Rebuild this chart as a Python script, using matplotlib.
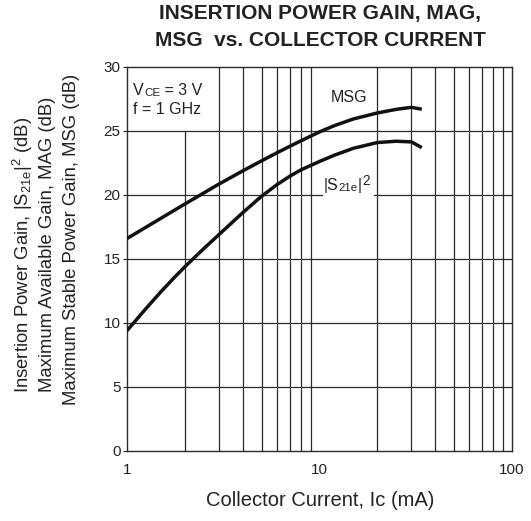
import matplotlib
matplotlib.use("Agg")
import matplotlib.pyplot as plt

plt.rcParams['font.family'] = ['Liberation Sans', 'DejaVu Sans']

# ---- data ----
msg_current_ma = [1, 1.5, 2, 3, 4, 5, 6, 7, 8, 10, 12, 15, 20, 25, 30, 34]
msg_db = [16.6, 18.18, 19.3, 20.85, 21.89, 22.67, 23.29, 23.8, 24.23, 24.93,
          25.43, 25.94, 26.41, 26.69, 26.85, 26.7]
s21_current_ma = [1, 1.25, 1.5, 1.75, 2, 2.5, 3, 4, 5, 6, 7, 8, 10, 12, 15,
                  20, 25, 30, 34]
s21_db = [9.4, 11.1, 12.44, 13.51, 14.4, 15.8, 16.9, 18.63, 19.9, 20.8,
          21.46, 21.96, 22.62, 23.12, 23.65, 24.1, 24.2, 24.15, 23.7]
x_ticks = [1, 10, 100]
x_tick_labels = ["1", "10", "100"]
y_ticks = [0, 5, 10, 15, 20, 25, 30]

W, H = 531, 521
fig = plt.figure(figsize=(W / 100, H / 100), dpi=100)
ax = fig.add_axes([127 / W, 1 - 451 / H, (512 - 127) / W, (451 - 67) / H])

ax.set_xscale('log')
ax.set_xlim(1, 100)
ax.set_ylim(0, 30)

gc = '#2a2a2a'
glw = 0.9
# vertical grid lines
for d in (1, 10):
    for m in range(2, 10):
        xv = d * m
        if xv == 2:
            ax.plot([xv, xv], [0, 25], color=gc, lw=glw, zorder=1)
        else:
            ax.plot([xv, xv], [0, 30], color=gc, lw=glw, zorder=1)
# horizontal grid lines
for yv in (5, 10, 15, 25):
    ax.plot([1, 100], [yv, yv], color=gc, lw=glw, zorder=1)
ax.plot([1, 10.36], [20, 20], color=gc, lw=glw, zorder=1)
ax.plot([19.1, 100], [20, 20], color=gc, lw=glw, zorder=1)

for sp in ax.spines.values():
    sp.set_color(gc)
    sp.set_linewidth(1.0)

ax.plot(msg_current_ma, msg_db, color='#111111', lw=2.5, solid_joinstyle='round',
        solid_capstyle='butt', zorder=3)
ax.plot(s21_current_ma, s21_db, color='#111111', lw=2.5, solid_joinstyle='round',
        solid_capstyle='butt', zorder=3)

ax.set_xticks(x_ticks)
ax.set_xticklabels(x_tick_labels)
ax.xaxis.set_minor_locator(matplotlib.ticker.NullLocator())
ax.set_yticks(y_ticks)
ax.tick_params(axis='x', length=0, pad=9, labelsize=11, colors='#222222')
ax.tick_params(axis='y', length=3, width=0.8, pad=1.5, labelsize=11,
               colors='#222222', direction='out')

fs = 11.5
tc = '#222222'
# condition text
t1 = ax.text(1.078, 27.8, "V", fontsize=fs, color=tc, va='baseline', ha='left')
t2 = ax.annotate("CE", xy=(1, 0), xycoords=t1, fontsize=fs * 0.72, color=tc,
                 va='bottom', ha='left')
ax.annotate(" = 3 V", xy=(1, 0), xycoords=t2, fontsize=fs, color=tc,
            va='bottom', ha='left')
ax.text(1.078, 26.33, "f = 1 GHz", fontsize=fs, color=tc, va='baseline', ha='left')

# curve labels
ax.text(11.4, 27.6, "MSG", fontsize=fs, color=tc, va='center', ha='left')
s1 = ax.text(10.55, 20.13, "|S", fontsize=fs, color=tc, va='bottom', ha='left')
s2 = ax.annotate("21e", xy=(1, 0), xycoords=s1, fontsize=fs * 0.72, color=tc,
                 va='bottom', ha='left')
s3 = ax.annotate("|", xy=(1, 0), xycoords=s2, fontsize=fs, color=tc,
                 va='bottom', ha='left')
ax.annotate("2", xy=(1, 1), xycoords=s3, fontsize=fs * 0.85, color=tc,
            va='top', ha='left', xytext=(0.5, 3), textcoords='offset points')

# title
fig.text(320 / W, 1 - 14 / H, "INSERTION POWER GAIN, MAG,", fontsize=15,
         fontweight='bold', color=tc, ha='center', va='center')
fig.text(320 / W, 1 - 40 / H, "MSG  vs. COLLECTOR CURRENT", fontsize=15,
         fontweight='bold', color=tc, ha='center', va='center')

# x label
fig.text(320 / W, 1 - 501 / H, "Collector Current, Ic (mA)", fontsize=14.5,
         color=tc, ha='center', va='center')

# y label (three lines)
yfs = 13.3
fig.text(23 / W, 1 - 255 / H,
         r"Insertion Power Gain, |S$_\mathregular{21e}$|$^\mathregular{2}$ (dB)",
         fontsize=yfs, color=tc, rotation=90, ha='center', va='center')
fig.text(48 / W, 1 - 244 / H, "Maximum Available Gain, MAG (dB)",
         fontsize=yfs, color=tc, rotation=90, ha='center', va='center')
fig.text(72 / W, 1 - 239 / H, "Maximum Stable Power Gain, MSG (dB)",
         fontsize=yfs, color=tc, rotation=90, ha='center', va='center')

fig.savefig("out.png", dpi=100)
